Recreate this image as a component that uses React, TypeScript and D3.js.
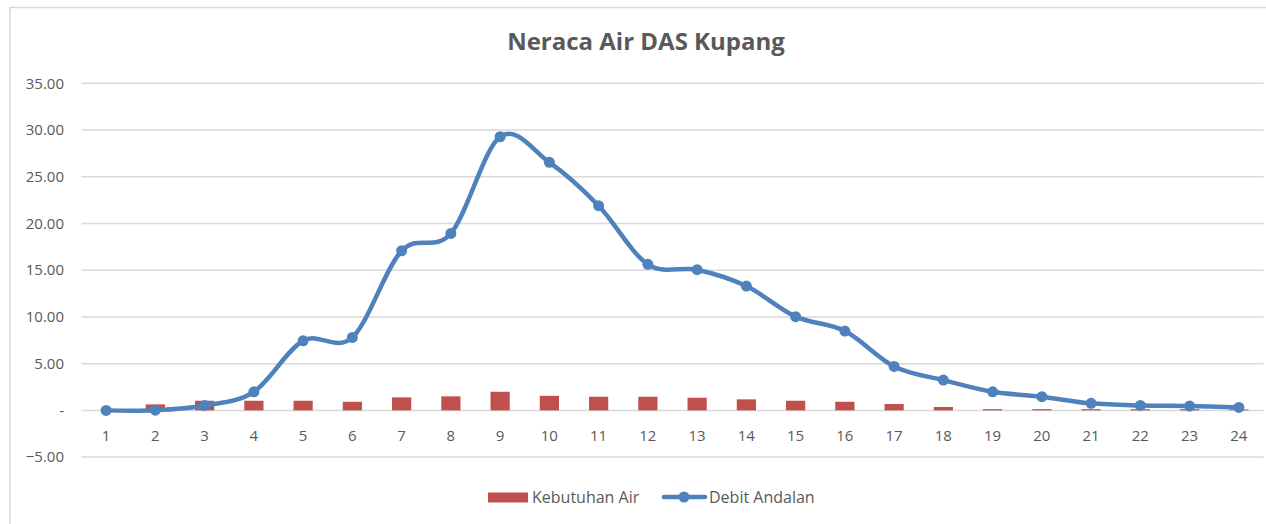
import React from "react";
import * as d3 from "d3";

const categories: string[] = Array.from({ length: 24 }, (_, i) => String(i + 1));
const kebutuhanAir: number[] = [0, 0.64, 1.03, 1.03, 1.03, 0.92, 1.39, 1.5, 1.99, 1.56, 1.46, 1.46, 1.35, 1.18, 1.03, 0.92, 0.68, 0.36, 0.13, 0.13, 0.13, 0.13, 0.13, 0.1];
const debitAndalan: number[] = [0, 0.02, 0.53, 1.99, 7.45, 7.81, 17.08, 18.94, 29.28, 26.54, 21.9, 15.63, 15.05, 13.3, 10.03, 8.49, 4.7, 3.24, 1.99, 1.46, 0.75, 0.53, 0.46, 0.32];
const yTicks: number[] = [-5, 0, 5, 10, 15, 20, 25, 30, 35];
const title = "Neraca Air DAS Kupang";
const legendLabels = ["Kebutuhan Air", "Debit Andalan"];

const W = 1266;
const H = 524;
const BAR = "#c0504d";
const LINE = "#4f81bd";
const GRID = "#d9d9d9";
const TEXT = "#595959";
const FONT = "'Open Sans', 'Noto Sans', sans-serif";

export default function App() {
  const x = d3.scaleBand<string>().domain(categories).range([81.5, 1263.5]).paddingInner(0).paddingOuter(0);
  const y = d3.scaleLinear().domain([-5, 35]).range([457.1, 83.3]);
  const bw = x.bandwidth() * 0.39;
  const cx = (c: string) => (x(c) as number) + x.bandwidth() / 2;
  const lineGen = d3
    .line<number>()
    .x((_, i) => cx(categories[i]))
    .y((d) => y(d))
    .curve(d3.curveCatmullRom.alpha(0));
  const fmt = (v: number) => (v === 0 ? "-" : d3.format(".2f")(v));

  return (
    <svg
      width={W}
      height={H}
      style={{ position: "absolute", left: 0, top: 0, background: "#fff" }}
      fontFamily={FONT}
    >
      <rect x={0} y={0} width={W} height={H} fill="#fff" />
      <rect x={10} y={7.5} width={1400} height={700} fill="none" stroke={GRID} strokeWidth={1.5} />
      <text x={646} y={50} textAnchor="middle" fontSize={24} fontWeight={700} fill={TEXT}>
        {title}
      </text>
      {yTicks.map((t) => (
        <g key={t}>
          <line x1={81.5} x2={1263.5} y1={y(t)} y2={y(t)} stroke={GRID} strokeWidth={1.5} />
          <text x={64} y={y(t)} dy="0.35em" textAnchor="end" fontSize={15} fill={TEXT}>
            {fmt(t)}
          </text>
        </g>
      ))}
      {kebutuhanAir.map((v, i) => (
        <rect
          key={i}
          x={cx(categories[i]) - bw / 2}
          y={y(Math.max(v, 0))}
          width={bw}
          height={Math.abs(y(v) - y(0))}
          fill={BAR}
        />
      ))}
      {categories.map((c) => (
        <text key={c} x={cx(c)} y={436} dy="0.35em" textAnchor="middle" fontSize={15} fill={TEXT}>
          {c}
        </text>
      ))}
      <path d={lineGen(debitAndalan) || ""} fill="none" stroke={LINE} strokeWidth={4.5} strokeLinejoin="round" strokeLinecap="round" />
      {debitAndalan.map((v, i) => (
        <circle key={i} cx={cx(categories[i])} cy={y(v)} r={5.5} fill={LINE} />
      ))}
      <g>
        <rect x={488} y={492.5} width={40} height={10} fill={BAR} />
        <text x={532} y={497.5} dy="0.35em" fontSize={16} fill={TEXT}>
          {legendLabels[0]}
        </text>
        <line x1={664} x2={705} y1={497} y2={497} stroke={LINE} strokeWidth={4.5} strokeLinecap="round" />
        <circle cx={684} cy={497} r={5.5} fill={LINE} />
        <text x={709} y={497.5} dy="0.35em" fontSize={16} fill={TEXT}>
          {legendLabels[1]}
        </text>
      </g>
    </svg>
  );
}
